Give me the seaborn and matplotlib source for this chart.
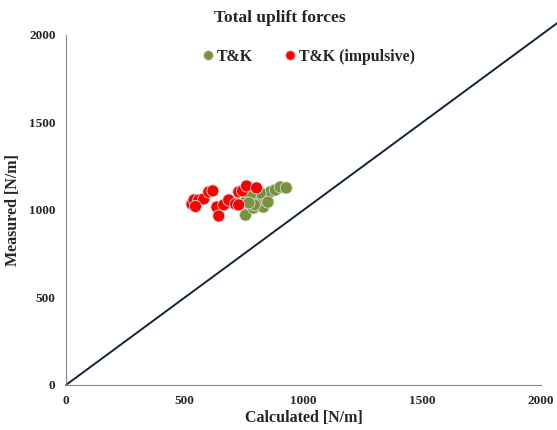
import numpy as np
import pandas as pd
import seaborn as sns
import matplotlib.pyplot as plt

# values
tk_calc = [756, 718, 760, 789, 831, 810, 843, 860, 881, 902, 927, 818, 777, 793, 770, 850]
tk_meas = [971, 1029, 1057, 1011, 1017, 1057, 1069, 1103, 1114, 1131, 1126, 1097, 1086, 1029, 1040, 1045]
imp_calc = [530, 539, 559, 580, 601, 618, 635, 643, 664, 685, 714, 727, 743, 760, 802, 727, 545]
imp_meas = [1034, 1057, 1057, 1063, 1103, 1109, 1017, 966, 1029, 1057, 1034, 1103, 1109, 1137, 1126, 1029, 1020]
series_names = ["T&K", "T&K (impulsive)"]

df = pd.DataFrame({
    "calc": tk_calc + imp_calc,
    "meas": tk_meas + imp_meas,
    "series": [series_names[0]] * len(tk_calc) + [series_names[1]] * len(imp_calc),
})

sns.set_style("white")
plt.rcParams["font.family"] = ["Liberation Serif", "DejaVu Serif"]
plt.rcParams["font.weight"] = "bold"

fig = plt.figure(figsize=(5.57, 4.30), dpi=100)
ax = fig.add_axes([0.1185, 0.1047, 0.853, 0.814])

ax.plot([0, 2100], [0, 2100], color="#14233c", lw=1.4, clip_on=False, zorder=1)

sns.scatterplot(data=df, x="calc", y="meas", hue="series",
                palette={"T&K": "#77933c", "T&K (impulsive)": "#ff0000"},
                s=75, edgecolor="#d9d9d9", linewidth=0.6, ax=ax, zorder=3)

ax.set_xlim(0, 2000)
ax.set_ylim(0, 2000)
ax.set_xticks([0, 500, 1000, 1500, 2000])
ax.set_yticks([0, 500, 1000, 1500, 2000])
for s in ["top", "right"]:
    ax.spines[s].set_visible(False)
for s in ["left", "bottom"]:
    ax.spines[s].set_color("#888888")
    ax.spines[s].set_linewidth(0.8)
ax.tick_params(axis="both", direction="out", length=4, color="#888888",
               labelsize=9.5, width=0.8)
for lab in ax.get_xticklabels() + ax.get_yticklabels():
    lab.set_fontweight("bold")

ax.set_xlabel("Calculated [N/m]", fontsize=11.5, fontweight="bold", labelpad=2)
ax.set_ylabel("Measured [N/m]", fontsize=11.5, fontweight="bold", labelpad=6)
fig.text(0.503, 0.958, "Total uplift forces", ha="center", va="center",
         fontsize=12.5, fontweight="bold")

handles, labels = ax.get_legend_handles_labels()
leg = ax.legend(handles, labels, loc="center", bbox_to_anchor=(0.5, 0.937),
                ncol=2, frameon=False, fontsize=11.4, handletextpad=-0.4,
                columnspacing=1.3, markerscale=0.8)
for t in leg.get_texts():
    t.set_fontweight("bold")

fig.savefig("out.png", dpi=100)
